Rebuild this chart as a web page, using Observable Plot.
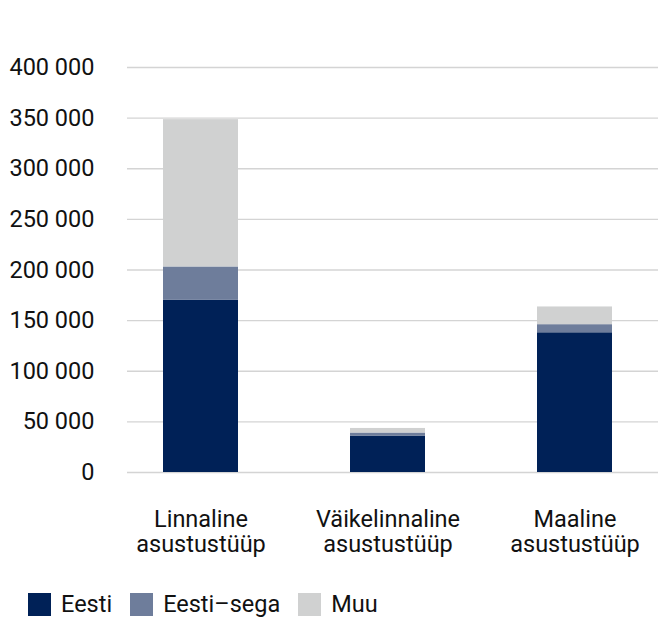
<!DOCTYPE html>
<html>
<head>
<meta charset="utf-8">
<script src="https://cdn.jsdelivr.net/npm/d3@7"></script>
<script src="https://cdn.jsdelivr.net/npm/@observablehq/plot@0.6"></script>
<style>
  body { margin: 0; background: #fff; font-family: Roboto, "Noto Sans", sans-serif; }
  #legend { display: flex; align-items: center; padding-left: 28px; margin-top: 11px; font-size: 23.5px; line-height: 26px; color: #111; }
  #legend .item { display: flex; align-items: center; margin-right: 18px; }
  #legend .sw { width: 23px; height: 23px; margin-right: 10px; }
</style>
</head>
<body>
<div id="chart"></div>
<div id="legend"></div>
<script>
const categories = ["Linnaline\nasustustüüp", "Väikelinnaline\nasustustüüp", "Maaline\nasustustüüp"];
const seriesNames = ["Eesti", "Eesti–sega", "Muu"];
const eesti = [170000, 36000, 138000];
const eestiSega = [33000, 3000, 8000];
const muu = [145500, 4500, 17500];
const colors = ["#002157", "#6e7d9b", "#d0d1d1"];
const yTicks = [0, 50000, 100000, 150000, 200000, 250000, 300000, 350000, 400000];

const data = [];
categories.forEach((c, i) => {
  data.push({cat: c, series: seriesNames[0], value: eesti[i]});
  data.push({cat: c, series: seriesNames[1], value: eestiSega[i]});
  data.push({cat: c, series: seriesNames[2], value: muu[i]});
});

const fmt = d => d3.format(",")(d).replace(/,/g, " ");

const chart = Plot.plot({
  width: 658,
  height: 580,
  marginLeft: 127,
  marginRight: 0,
  marginTop: 67,
  marginBottom: 108,
  style: {fontFamily: "Roboto, sans-serif", fontSize: "23px", color: "#111"},
  x: {domain: categories, range: [107, 668], paddingInner: 0.6, paddingOuter: 0.3, label: null},
  y: {domain: [0, 400000], label: null},
  color: {domain: seriesNames, range: colors},
  marks: [
    Plot.ruleY(yTicks, {stroke: "#d4d4d4", strokeWidth: 1.3}),
    Plot.barY(data, Plot.stackY({x: "cat", y: "value", fill: "series", order: seriesNames})),
    Plot.axisY({ticks: yTicks, tickFormat: fmt, tickSize: 0, tickPadding: 33, fontSize: 23.5, label: null}),
    Plot.axisX({tickSize: 0, tickPadding: 37, fontSize: 23.5, lineHeight: 1.06, label: null})
  ]
});
document.getElementById("chart").appendChild(chart);

const leg = document.getElementById("legend");
seriesNames.forEach((s, i) => {
  const it = document.createElement("div");
  it.className = "item";
  const sw = document.createElement("div");
  sw.className = "sw";
  sw.style.background = colors[i];
  const t = document.createElement("span");
  t.textContent = s;
  it.appendChild(sw);
  it.appendChild(t);
  leg.appendChild(it);
});
</script>
</body>
</html>
